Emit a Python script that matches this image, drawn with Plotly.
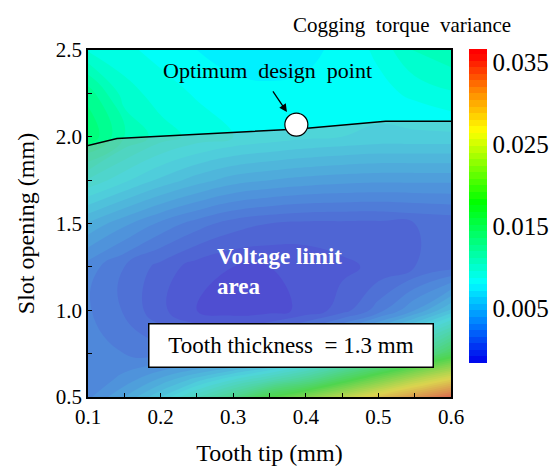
import plotly.graph_objects as go

# Data
tooth_tip = [0.1, 0.15, 0.2, 0.25, 0.3, 0.35, 0.4, 0.45, 0.5, 0.55, 0.6]
slot_opening = [0.5, 0.6, 0.75, 1.0, 1.25, 1.5, 1.75, 2.0, 2.25, 2.5]
variance = [
    [0.003, 0.0048, 0.0072, 0.0102, 0.0135, 0.018, 0.021, 0.0245, 0.028, 0.031, 0.034],     # 0.5
    [0.0025, 0.0035, 0.005, 0.0068, 0.0088, 0.0108, 0.0132, 0.0168, 0.0205, 0.0242, 0.0272],  # 0.6
    [0.0025, 0.0024, 0.002, 0.0018, 0.002, 0.003, 0.0048, 0.007, 0.0095, 0.0125, 0.0165],   # 0.75
    [0.0025, 0.0015, 0.0002, -0.0008, -0.0012, -0.0011, -0.0006, 0.0004, 0.002, 0.004, 0.0065],  # 1.0
    [0.0028, 0.0016, 0.0005, -0.0004, -0.0008, -0.0008, -0.0006, -0.0002, 0.0002, 0.0008, 0.0013],  # 1.25
    [0.0055, 0.0042, 0.003, 0.002, 0.0012, 0.0008, 0.0006, 0.0006, 0.0006, 0.0008, 0.001],  # 1.5
    [0.0095, 0.0082, 0.007, 0.006, 0.0052, 0.0048, 0.0045, 0.0043, 0.0042, 0.0042, 0.0042],  # 1.75
    [0.0135, 0.0112, 0.0100, 0.0093, 0.0088, 0.0085, 0.0082, 0.008, 0.0078, 0.0078, 0.0078],  # 2.0
    [0.0125, 0.0100, 0.0092, 0.0087, 0.0084, 0.0082, 0.0082, 0.0082, 0.0085, 0.009, 0.0095],  # 2.25
    [0.0095, 0.009, 0.0085, 0.008, 0.0075, 0.0075, 0.0078, 0.0082, 0.009, 0.0105, 0.011],  # 2.5
]
limit_x = [0.1, 0.14, 0.39, 0.51, 0.6]
limit_y = [1.95, 1.99, 2.045, 2.09, 2.09]
optimum_x = [0.387]
optimum_y = [2.07]
cbar_ticks = [0.005, 0.015, 0.025, 0.035]
x_ticks = [0.1, 0.15, 0.2, 0.25, 0.3, 0.35, 0.4, 0.45, 0.5, 0.55, 0.6]
x_labels = ["0.1", "", "0.2", "", "0.3", "", "0.4", "", "0.5", "", "0.6"]
y_ticks = [0.5, 0.75, 1.0, 1.25, 1.5, 1.75, 2.0, 2.25, 2.5]
y_labels = ["0.5", "", "1.0", "", "1.5", "", "2.0", "", "2.5"]

FONT = "Liberation Serif, Times New Roman, serif"
CMIN, CMAX = -0.0016, 0.0366

jet = [
    [0.0, "rgb(0,0,235)"],
    [0.13, "rgb(0,128,255)"],
    [0.26, "rgb(0,255,255)"],
    [0.52, "rgb(0,255,0)"],
    [0.75, "rgb(255,255,0)"],
    [0.875, "rgb(255,140,0)"],
    [1.0, "rgb(255,0,0)"],
]

fig = go.Figure()
fig.add_trace(go.Contour(
    x=tooth_tip, y=slot_opening, z=variance,
    colorscale=jet, zmin=CMIN, zmax=CMAX,
    contours=dict(coloring="fill", start=CMIN, end=CMAX, size=0.0008, showlines=False),
    line=dict(width=0, smoothing=1.3),
    colorbar=dict(
        thickness=18, thicknessmode="pixels",
        len=314, lenmode="pixels",
        x=1.0496, xanchor="left", y=1.003, yanchor="top",
        xpad=0, ypad=0, outlinewidth=0,
        tickvals=cbar_ticks, ticktext=[f"{v:.3f}" for v in cbar_ticks],
        ticks="", tickfont=dict(family=FONT, size=25, color="black"),
    ),
    hoverinfo="skip",
))
fig.add_trace(go.Scatter(
    x=limit_x, y=limit_y, mode="lines", fill="tozeroy",
    fillcolor="rgba(175,162,175,0.45)", line=dict(color="black", width=1.5),
    showlegend=False, hoverinfo="skip",
))
fig.add_trace(go.Scatter(
    x=optimum_x, y=optimum_y, mode="markers",
    marker=dict(size=23, color="white", line=dict(color="black", width=1.2)),
    showlegend=False, hoverinfo="skip",
))

fig.update_layout(
    width=558, height=466,
    margin=dict(l=88, r=107, t=50, b=69, autoexpand=False),
    paper_bgcolor="white", plot_bgcolor="white",
    font=dict(family=FONT, color="black"),
    showlegend=False,
    xaxis=dict(
        range=[0.1, 0.6], tickvals=x_ticks, ticktext=x_labels,
        ticks="inside", ticklen=4, tickcolor="black",
        showline=True, mirror=True, linecolor="black", linewidth=1.5,
        showgrid=False, zeroline=False,
        tickfont=dict(family=FONT, size=21, color="black"),
        title=dict(text="Tooth tip (mm)", font=dict(family=FONT, size=24), standoff=22),
    ),
    yaxis=dict(
        range=[0.5, 2.5], tickvals=y_ticks, ticktext=y_labels,
        ticks="inside", ticklen=4, tickcolor="black",
        showline=True, mirror=True, linecolor="black", linewidth=1.5,
        showgrid=False, zeroline=False,
        tickfont=dict(family=FONT, size=21, color="black"),
        title=dict(text="Slot opening (mm)", font=dict(family=FONT, size=24), standoff=14),
    ),
    annotations=[
        dict(text="Cogging\u00a0\u00a0torque\u00a0\u00a0variance", xref="paper", yref="paper",
             x=0.865, y=1.072, xanchor="center", yanchor="middle", showarrow=False,
             font=dict(family=FONT, size=21, color="black")),
        dict(text="Optimum\u00a0\u00a0design\u00a0\u00a0point", x=0.347, y=2.38, showarrow=False,
             font=dict(family=FONT, size=22, color="black")),
        dict(text="", x=0.374, y=2.143, ax=-15, ay=-22, showarrow=True,
             arrowhead=2, arrowsize=1.2, arrowwidth=1.3, arrowcolor="black"),
        dict(text="<b>Voltage limit<br>area</b>", x=0.275, y=1.226, xanchor="left", align="left",
             showarrow=False, font=dict(family=FONT, size=23, color="white")),
        dict(text="Tooth thickness\u00a0\u00a0= 1.3 mm", x=0.379, y=0.794, showarrow=False,
             bgcolor="white", bordercolor="black", borderwidth=1.5, borderpad=4,
             width=275, height=34, font=dict(family=FONT, size=23, color="black")),
    ],
)

fig.write_html("out.html")
